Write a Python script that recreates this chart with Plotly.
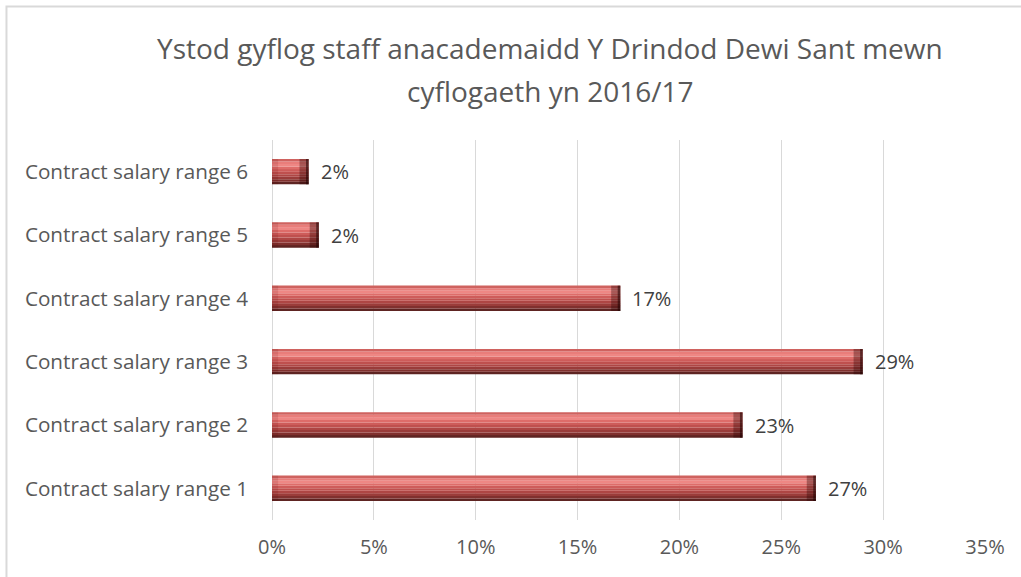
import plotly.graph_objects as go

categories = ["Contract salary range 1", "Contract salary range 2", "Contract salary range 3",
              "Contract salary range 4", "Contract salary range 5", "Contract salary range 6"]
values = [26.7, 23.1, 29.0, 17.1, 2.3, 1.8]
labels = ["27%", "23%", "29%", "17%", "2%", "2%"]
x_ticks = [0, 5, 10, 15, 20, 25, 30, 35]
x_tick_text = ["0%", "5%", "10%", "15%", "20%", "25%", "30%", "35%"]
title_lines = ["Ystod gyflog staff anacademaidd Y Drindod Dewi Sant mewn", "cyflogaeth yn 2016/17"]

FONT = "Open Sans"
fig = go.Figure()

# bevel bands (style only): offset within category slot, band colour
bands = [(-0.20, "#5E2422"), (-0.16, "#80302E"), (-0.12, "#9A3C3A"), (-0.08, "#AE4644"),
         (-0.04, "#BF504E"), (0.00, "#CE5C5A"), (0.04, "#DE6C69"), (0.08, "#EE8784"),
         (0.12, "#E97D7A"), (0.16, "#CF625F")]


def layer(offset, width, color, base=None, xs=None):
    fig.add_trace(go.Bar(
        y=categories, x=xs if xs is not None else values, base=base,
        orientation="h", offset=offset, width=width,
        marker=dict(color=color, line=dict(width=0)),
        showlegend=False, hoverinfo="skip"))


for off, col in bands:
    layer(off, 0.041, col)
# end caps (bevel shading)
layer(-0.2, 0.4, "rgba(40,0,0,0.35)", base=[v - 0.45 for v in values], xs=[0.45] * len(values))
layer(-0.2, 0.4, "rgba(30,0,0,0.55)", base=[v - 0.13 for v in values], xs=[0.13] * len(values))
layer(-0.2, 0.4, "rgba(90,0,0,0.12)", base=[0] * len(values), xs=[0.3] * len(values))

for c, v, t in zip(categories, values, labels):
    fig.add_annotation(x=v, y=c, text=t, xref="x", yref="y", xanchor="left",
                       xshift=10, showarrow=False,
                       font=dict(family=FONT, size=20, color="#404040"))

# two-line title
for line, yc in zip(title_lines, [1.2421, 1.1290]):
    fig.add_annotation(x=0.3899, y=yc, xref="paper", yref="paper", text=line,
                       xanchor="center", yanchor="middle", showarrow=False,
                       font=dict(family=FONT, size=28, color="#595959"))

fig.add_shape(type="rect", xref="paper", yref="paper",
              x0=-0.3724, x1=1.2, y0=-0.5, y1=1.3513,
              line=dict(color="#D9D9D9", width=2), layer="below")

fig.update_layout(
    width=1021, height=577, autosize=False,
    margin=dict(l=272, r=36, t=140, b=57, autoexpand=False),
    barmode="overlay",
    paper_bgcolor="white", plot_bgcolor="white",
    font=dict(family=FONT, size=20, color="#595959"),
    xaxis=dict(range=[0, 35], tickvals=x_ticks, ticktext=x_tick_text, automargin=False,
               showgrid=True, gridcolor="#D9D9D9", gridwidth=1,
               zeroline=True, zerolinecolor="#D9D9D9", zerolinewidth=1,
               showline=False, ticks="", ticklabelstandoff=13,
               tickfont=dict(family=FONT, size=20, color="#595959"), fixedrange=True),
    yaxis=dict(showgrid=False, zeroline=False, showline=False, ticks="", automargin=False,
               ticklabelstandoff=23,
               tickfont=dict(family=FONT, size=20.7, color="#595959"), fixedrange=True),
)

fig.write_html("out.html", config={"displayModeBar": False},
               post_script="document.body.style.margin='0';document.body.style.padding='0';")
